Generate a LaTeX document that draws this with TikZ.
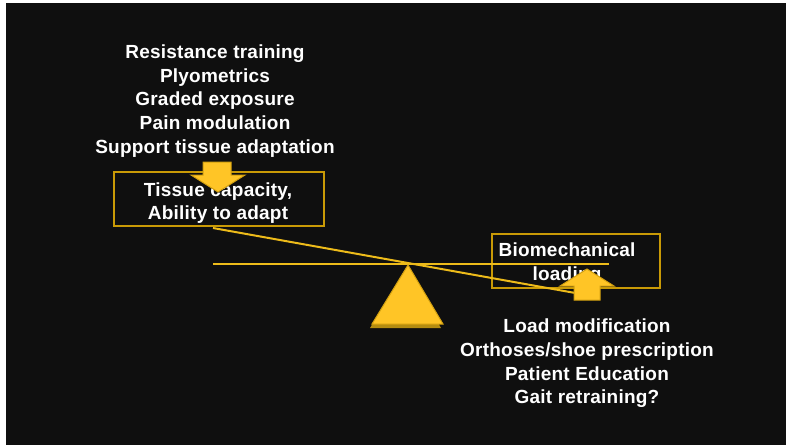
\documentclass[tikz,border=0pt]{standalone}
\usepackage{fontspec}
\setmainfont{Liberation Sans}
\begin{document}
\begin{tikzpicture}[x=1pt,y=-1pt,
  txt/.style={text=white,font=\addfontfeature{LetterSpace=1.2}\bfseries\fontsize{19}{23.7}\selectfont,align=center,inner sep=0pt},
  goldbox/.style={draw=boxgold,line width=1.3pt,inner sep=0pt},
  goldline/.style={draw=linegold,line width=2pt},
  blockarrow/.style={fill=arrowgold,draw=arrowedge,line width=1pt,line join=miter}]
\definecolor{bg}{HTML}{0F0F0F}
\definecolor{boxgold}{HTML}{C99A06}
\definecolor{linegold}{HTML}{EDBB1A}
\definecolor{arrowgold}{HTML}{FFC526}
\definecolor{arrowedge}{HTML}{D2A010}
\definecolor{shadowgold}{HTML}{B48C10}
\useasboundingbox (0,0) rectangle (786,445);
\fill[white] (0,0) rectangle (786,445);
\fill[bg] (6,3) rectangle (786,445);
% boxes
\node[goldbox,minimum width=210pt,minimum height=54pt] (capbox) at (219,199) {};
\node[goldbox,minimum width=168pt,minimum height=54pt] (loadbox) at (576,261) {};
% beam and horizontal line
\coordinate (beamL) at (213,228);
\coordinate (pivot) at (408,263);
\coordinate (beamR) at (592,296);
\coordinate (horL) at (213,264);
\coordinate (horR) at (609,264);
\draw[goldline] (horL) -- (horR);
\draw[goldline] (beamL) -- (pivot) -- (beamR);
% fulcrum triangle with shadow
\fill[shadowgold] (406,268) -- (370,328) -- (441,328) -- cycle;
\filldraw[blockarrow] (pivot) ++(0,2) -- (372,324) -- (443,324) -- cycle;
% texts
\node[txt] (top) at (215,101) {Resistance training\\Plyometrics\\Graded exposure\\Pain modulation\\Support tissue adaptation};
\node[txt] (captext) at (218,203) {Tissue capacity,\\Ability to adapt};
\node[txt] (loadtext) at (567,263.5) {Biomechanical\\loading};
\node[txt] (bottom) at (587,363.5) {Load modification\\Orthoses/shoe prescription\\Patient Education\\Gait retraining?};
% down arrow
\filldraw[blockarrow] (203,162) -- (231,162) -- (231,175) -- (245,175) -- (218,192) -- (191,175) -- (203,175) -- cycle;
% up arrow
\filldraw[blockarrow] (574,300) -- (600,300) -- (600,286) -- (614,286) -- (587,269) -- (560,286) -- (574,286) -- cycle;
\end{tikzpicture}
\end{document}
